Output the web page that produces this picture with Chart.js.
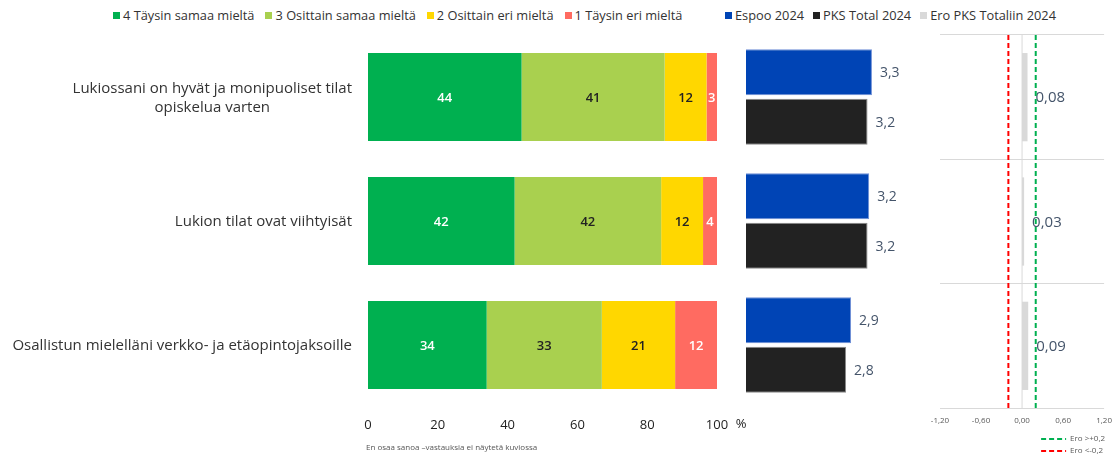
<!DOCTYPE html>
<html lang="fi">
<head>
<meta charset="utf-8">
<script src="https://cdn.jsdelivr.net/npm/chart.js@4.4.1/dist/chart.umd.min.js"></script>
<style>
    body {
        margin: 0;
        width: 1115px;
        height: 454px;
        overflow: hidden;
        background: #fff;
        position: relative;
        font-family: "Open Sans", sans-serif;
    }
    .box { position: absolute; top: 0; height: 454px; }
    .legend {
        position: absolute;
        top: 6px;
        display: flex;
        gap: 11px;
        font-size: 12.8px;
        color: #333;
        white-space: nowrap;
    }
    .legend .item { display: flex; align-items: center; }
    .legend i { display: inline-block; width: 7px; height: 7px; margin-right: 3px; }
    .note {
        position: absolute;
        left: 366px;
        top: 441px;
        font-size: 8px;
        color: #555;
    }
</style>
</head>
<body>
<div class="legend" id="legendLikert" style="left:113px"></div>
<div class="legend" id="legendMean" style="left:725px;gap:9px"></div>
<div class="box" style="left:0;width:760px"><canvas id="likert"></canvas></div>
<div class="box" style="left:740px;width:190px"><canvas id="mean"></canvas></div>
<div class="box" style="left:920px;width:200px"><canvas id="diff"></canvas></div>
<div class="note">En osaa sanoa –vastauksia ei näytetä kuviossa</div>

<script>
// Data
const questions = [
    ['Lukiossani on hyvät ja monipuoliset tilat', 'opiskelua varten'],
    ['Lukion tilat ovat viihtyisät'],
    ['Osallistun mielelläni verkko- ja etäopintojaksoille']
];
const likertLabels = ['4 Täysin samaa mieltä', '3 Osittain samaa mieltä', '2 Osittain eri mieltä', '1 Täysin eri mieltä'];
const fullyAgree = [44, 42, 34];
const partlyAgree = [41, 42, 33];
const partlyDisagree = [12, 12, 21];
const fullyDisagree = [3, 4, 12];
const percentTicks = [0, 20, 40, 60, 80, 100];

const meanLabels = ['Espoo 2024', 'PKS Total 2024'];
const espoo2024 = [3.29, 3.24, 2.91];
const pksTotal2024 = [3.21, 3.21, 2.82];

const diffLabel = 'Ero PKS Totaliin 2024';
const diffToPks = [0.08, 0.03, 0.09];
const diffTicks = [-1.2, -0.6, 0, 0.6, 1.2];
const diffLimitLabels = ['Ero >+0,2', 'Ero <-0,2'];
const diffLimits = [0.2, -0.2];

// Colours
const likertColors = ['#00b050', '#a9d04f', '#ffd700', '#ff6b61'];
const likertTextColors = ['#ffffff', '#222222', '#222222', '#ffffff'];
const meanColors = ['#0044b5', '#222222'];
const meanBorders = ['#6f8fd6', '#8a8a8a'];
const diffColor = '#d9d9d9';
const valueColor = '#44546a';

Chart.defaults.font.family = '"Open Sans", sans-serif';
Chart.defaults.animation = false;

const fmt = (v, d) => v.toFixed(d).replace('.', ',');

// Value labels drawn at the bar elements
function barValues(where, decimals, colors, font) {
    return {
        id: 'barValues',
        afterDatasetsDraw(chart) {
            const ctx = chart.ctx;
            ctx.save();
            ctx.font = font + ' "Open Sans"';
            ctx.textBaseline = 'middle';
            chart.data.datasets.forEach((ds, i) => {
                chart.getDatasetMeta(i).data.forEach((bar, j) => {
                    const text = fmt(ds.data[j], decimals);
                    ctx.fillStyle = colors ? colors[i] : valueColor;
                    if (where === 'center') {
                        const c = bar.getCenterPoint();
                        ctx.textAlign = 'center';
                        ctx.fillText(text, c.x, c.y + 1);
                    } else {
                        ctx.textAlign = 'left';
                        ctx.fillText(text, Math.max(bar.x, bar.base) + 8, bar.y + 1);
                    }
                });
            });
            ctx.restore();
        }
    };
}

// Question texts on the left of the stacked bars
const questionLabels = {
    id: 'questionLabels',
    afterDraw(chart) {
        const ctx = chart.ctx;
        const y = chart.scales.y;
        ctx.save();
        ctx.font = '15px "Open Sans"';
        ctx.fillStyle = '#333';
        ctx.textAlign = 'center';
        ctx.textBaseline = 'middle';
        questions.forEach((lines, i) => {
            const w = Math.max(...lines.map(l => ctx.measureText(l).width));
            const cx = chart.chartArea.left - 16 - w / 2;
            const cy = y.getPixelForValue(i);
            lines.forEach((l, k) => ctx.fillText(l, cx, cy + 1 + (k - (lines.length - 1) / 2) * 19));
        });
        // % sign after the last tick
        const x = chart.scales.x;
        ctx.font = '13px "Open Sans"';
        ctx.fillStyle = '#222';
        ctx.fillText('%', x.right + 24, x.top + 17);
        ctx.restore();
    }
};

// Zero line and +-0.2 limits on the difference chart, plus the small limit legend
const diffLines = {
    id: 'diffLines',
    beforeDatasetsDraw(chart) {
        const ctx = chart.ctx;
        const x = chart.scales.x;
        const area = chart.chartArea;
        ctx.save();
        ctx.strokeStyle = '#d9d9d9';
        ctx.lineWidth = 1;
        ctx.beginPath();
        ctx.moveTo(x.getPixelForValue(0), area.top);
        ctx.lineTo(x.getPixelForValue(0), area.bottom);
        ctx.stroke();
        ctx.restore();
    },
    afterDatasetsDraw(chart) {
        const ctx = chart.ctx;
        const x = chart.scales.x;
        const area = chart.chartArea;
        const colors = ['#00b050', '#ff0000'];
        ctx.save();
        ctx.lineWidth = 2;
        ctx.setLineDash([5, 3]);
        diffLimits.forEach((v, i) => {
            ctx.strokeStyle = colors[i];
            ctx.beginPath();
            ctx.moveTo(x.getPixelForValue(v), area.top);
            ctx.lineTo(x.getPixelForValue(v), area.bottom);
            ctx.stroke();
        });
        ctx.font = '8px "Open Sans"';
        ctx.fillStyle = '#595959';
        ctx.textBaseline = 'middle';
        diffLimitLabels.forEach((t, i) => {
            const ly = area.bottom + 31 + i * 12;
            ctx.strokeStyle = colors[i];
            ctx.beginPath();
            ctx.moveTo(area.right - 63, ly);
            ctx.lineTo(area.right - 38, ly);
            ctx.stroke();
            ctx.fillText(t, area.right - 34, ly);
        });
        ctx.restore();
    }
};

const noPlugins = { legend: { display: false }, tooltip: { enabled: false } };

new Chart(document.getElementById('likert'), {
    type: 'bar',
    data: {
        labels: questions,
        datasets: [fullyAgree, partlyAgree, partlyDisagree, fullyDisagree].map((data, i) => ({
            label: likertLabels[i],
            data: data,
            backgroundColor: likertColors[i],
            barPercentage: 0.71,
            categoryPercentage: 1
        }))
    },
    options: {
        indexAxis: 'y',
        responsive: true,
        maintainAspectRatio: false,
        layout: { padding: { left: 368, right: 43, top: 35, bottom: 22 } },
        plugins: noPlugins,
        scales: {
            x: {
                stacked: true, min: 0, max: 100,
                afterBuildTicks: s => { s.ticks = percentTicks.map(v => ({ value: v })); },
                ticks: { padding: 10, color: '#222', font: { size: 13 } },
                grid: { display: false, drawTicks: false },
                border: { display: false },
                afterFit: s => { s.height = 25; }
            },
            y: { stacked: true, display: false }
        }
    },
    plugins: [barValues('center', 0, likertTextColors, '600 13px'), questionLabels]
});

new Chart(document.getElementById('mean'), {
    type: 'bar',
    data: {
        labels: questions,
        datasets: [espoo2024, pksTotal2024].map((data, i) => ({
            label: meanLabels[i],
            data: data,
            backgroundColor: meanColors[i],
            borderColor: meanBorders[i],
            borderWidth: 1,
            barPercentage: 0.93,
            categoryPercentage: 0.8
        }))
    },
    options: {
        indexAxis: 'y',
        responsive: true,
        maintainAspectRatio: false,
        layout: { padding: { left: 6, right: 19, top: 35, bottom: 47 } },
        plugins: noPlugins,
        scales: {
            x: { min: 1, max: 4, display: false },
            y: { display: false }
        }
    },
    plugins: [barValues('end', 1, null, '14px')]
});

new Chart(document.getElementById('diff'), {
    type: 'bar',
    data: {
        labels: questions,
        datasets: [{
            label: diffLabel,
            data: diffToPks,
            backgroundColor: diffColor,
            barPercentage: 0.71,
            categoryPercentage: 1
        }]
    },
    options: {
        indexAxis: 'y',
        responsive: true,
        maintainAspectRatio: false,
        layout: { padding: { left: 20, right: 13, top: 35, bottom: 26 } },
        plugins: noPlugins,
        scales: {
            x: {
                min: -1.2, max: 1.2,
                afterBuildTicks: s => { s.ticks = diffTicks.map(v => ({ value: v })); },
                ticks: { padding: 8, color: '#595959', font: { size: 8 }, callback: v => fmt(v, 2) },
                grid: { display: false, drawTicks: false },
                border: { display: false },
                afterFit: s => { s.height = 20; }
            },
            y: {
                ticks: { display: false },
                grid: { color: '#d9d9d9', drawTicks: false, offset: true },
                border: { display: false },
                afterFit: s => { s.width = 0; }
            }
        }
    },
    plugins: [barValues('end', 2, null, '15px'), diffLines]
});

// HTML legend built from the dataset names and colours
function addLegend(el, names, colors) {
    names.forEach((name, i) => {
        const item = document.createElement('span');
        item.className = 'item';
        item.innerHTML = '<i style="background:' + colors[i] + '"></i>' + name;
        el.appendChild(item);
    });
}
addLegend(document.getElementById('legendLikert'), likertLabels, likertColors);
addLegend(document.getElementById('legendMean'), meanLabels.concat([diffLabel]), meanColors.concat([diffColor]));
</script>
</body>
</html>
